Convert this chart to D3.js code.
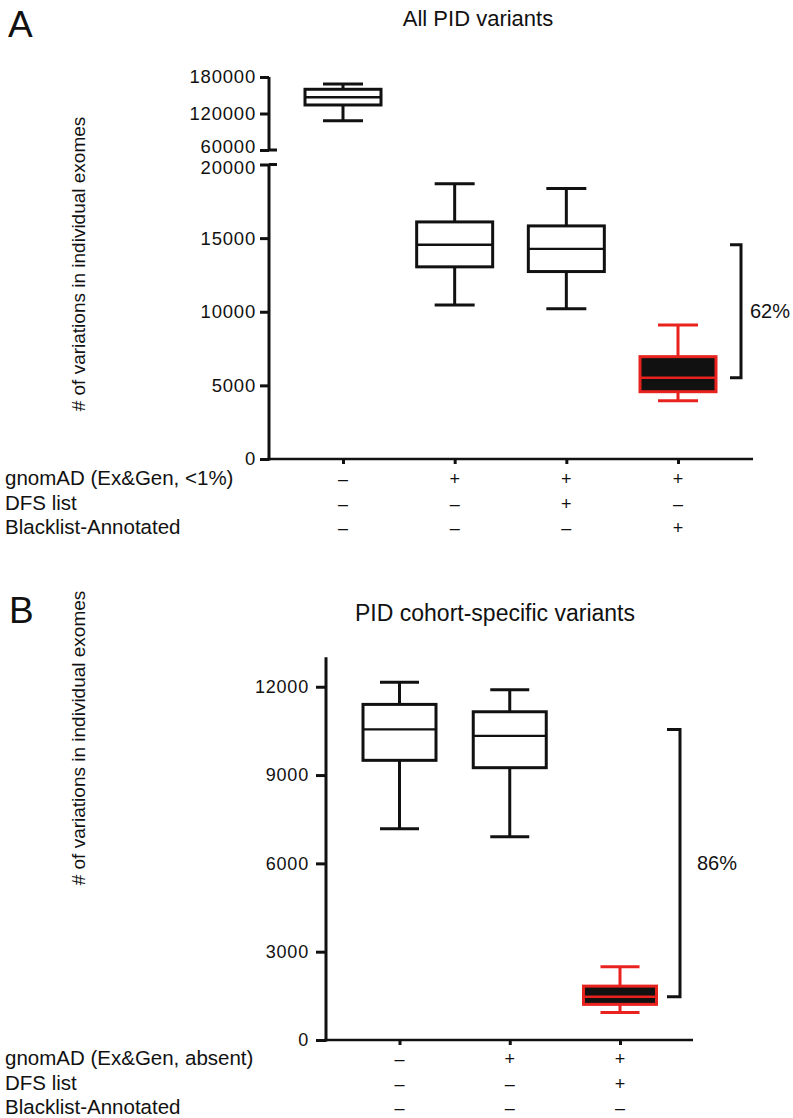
<!DOCTYPE html>
<html>
<head>
<meta charset="utf-8">
<script src="https://cdn.jsdelivr.net/npm/d3@7"></script>
<style>
  html, body { margin: 0; padding: 0; background: #fff; }
  svg { display: block; }
  text { font-family: "Liberation Sans", Arial, Helvetica, sans-serif; fill: #111; }
</style>
</head>
<body>
<svg id="chart" width="793" height="1118"></svg>
<script>
// ---------- Panel A data ----------
const titleA = "All PID variants";
const rowLabelsA = ["gnomAD (Ex&Gen, <1%)", "DFS list", "Blacklist-Annotated"];
const signsA = [["–", "+", "+", "+"], ["–", "–", "+", "–"], ["–", "–", "–", "+"]];
const minA = [108200, 10450, 10210, 3960];
const q1A  = [134000, 13050, 12730, 4570];
const medA = [146600, 14550, 14270, 5520];
const q3A  = [159800, 16100, 15830, 6950];
const maxA = [168500, 18700, 18370, 9100];
const highlightA = [false, false, false, true];
const upperTicksA = [60000, 120000, 180000];
const lowerTicksA = [0, 5000, 10000, 15000, 20000];
const pctA = "62%";

// ---------- Panel B data ----------
const titleB = "PID cohort-specific variants";
const rowLabelsB = ["gnomAD (Ex&Gen, absent)", "DFS list", "Blacklist-Annotated"];
const signsB = [["–", "+", "+"], ["–", "–", "+"], ["–", "–", "–"]];
const minB = [7180, 6900, 930];
const q1B  = [9500, 9250, 1210];
const medB = [10550, 10330, 1470];
const q3B  = [11400, 11150, 1830];
const maxB = [12150, 11900, 2490];
const highlightB = [false, false, true];
const ticksB = [0, 3000, 6000, 9000, 12000];
const pctB = "86%";

const yTitle = "# of variations in individual exomes";
const RED = "#e8231f";
const BLACK = "#111";

const svg = d3.select("#chart");

function styleAxis(g, fs) {
  g.select(".domain").remove();
  g.selectAll(".tick line").attr("stroke", BLACK).attr("stroke-width", 3);
  g.selectAll(".tick text").attr("font-size", fs).attr("fill", BLACK)
    .attr("letter-spacing", 0.8)
    .style("font-family", '"Liberation Sans", Arial, sans-serif');
}

function drawBox(g, x, y, i, data, w, capW, hl) {
  const [mn, q1, md, q3, mx] = data.map(a => a[i]);
  const col = hl ? RED : BLACK;
  g.append("line").attr("x1", x).attr("x2", x).attr("y1", y(mx)).attr("y2", y(q3))
    .attr("stroke", col).attr("stroke-width", 3);
  g.append("line").attr("x1", x).attr("x2", x).attr("y1", y(q1)).attr("y2", y(mn))
    .attr("stroke", col).attr("stroke-width", 3);
  g.append("line").attr("x1", x - capW / 2).attr("x2", x + capW / 2).attr("y1", y(mx)).attr("y2", y(mx))
    .attr("stroke", col).attr("stroke-width", 3);
  g.append("line").attr("x1", x - capW / 2).attr("x2", x + capW / 2).attr("y1", y(mn)).attr("y2", y(mn))
    .attr("stroke", col).attr("stroke-width", 3);
  g.append("rect").attr("x", x - w / 2).attr("width", w)
    .attr("y", y(q3)).attr("height", y(q1) - y(q3))
    .attr("fill", hl ? BLACK : "#fff").attr("stroke", col).attr("stroke-width", 3);
  g.append("line").attr("x1", x - w / 2).attr("x2", x + w / 2).attr("y1", y(md)).attr("y2", y(md))
    .attr("stroke", col).attr("stroke-width", 2.4);
}

function drawRows(labels, signs, x, baseY, step) {
  labels.forEach((lab, r) => {
    svg.append("text").attr("x", 5).attr("y", baseY + r * step)
      .attr("font-size", 20.5).text(lab);
    signs[r].forEach((s, c) => {
      svg.append("text").attr("x", x(c)).attr("y", baseY + r * step)
        .attr("text-anchor", "middle").attr("font-size", 18).text(s);
    });
  });
}

function drawBracket(xv, xArm, y1, y2, label, lx) {
  svg.append("path")
    .attr("d", `M${xArm},${y1}H${xv}V${y2}H${xArm}`)
    .attr("fill", "none").attr("stroke", BLACK).attr("stroke-width", 3);
  svg.append("text").attr("x", lx).attr("y", (y1 + y2) / 2)
    .attr("dominant-baseline", "central").attr("font-size", 20).text(label);
}

// ================= PANEL A =================
(function () {
  const axX = 269;
  const yUp = d3.scaleLinear().domain([60000, 180000]).range([150, 77]);
  const yLo = d3.scaleLinear().domain([0, 20000]).range([459, 164.5]);
  const yOf = v => (v > 40000 ? yUp(v) : yLo(v));
  const x = d3.scalePoint().domain(d3.range(minA.length)).range([343, 678]);

  svg.append("text").attr("x", 8).attr("y", 37).attr("font-size", 37).text("A");
  svg.append("text").attr("x", 478).attr("y", 26).attr("text-anchor", "middle")
    .attr("font-size", 22).text(titleA);

  svg.append("text").attr("transform", `translate(78,264) rotate(-90)`)
    .attr("text-anchor", "middle").attr("dominant-baseline", "central")
    .attr("font-size", 19).text(yTitle);

  // upper axis
  const gU = svg.append("g").attr("transform", `translate(${axX},0)`)
    .call(d3.axisLeft(yUp).tickValues(upperTicksA).tickFormat(d3.format("d")).tickSize(9).tickPadding(4));
  styleAxis(gU, 18.5);
  gU.selectAll(".tick text").filter(d => d === 60000).attr("dy", "0.14em");
  svg.append("line").attr("x1", axX).attr("x2", axX).attr("y1", yUp(180000)).attr("y2", yUp(60000))
    .attr("stroke", BLACK).attr("stroke-width", 3);
  svg.append("line").attr("x1", axX).attr("x2", axX + 8).attr("y1", yUp(60000)).attr("y2", yUp(60000))
    .attr("stroke", BLACK).attr("stroke-width", 3);

  // lower axis
  const gL = svg.append("g").attr("transform", `translate(${axX},0)`)
    .call(d3.axisLeft(yLo).tickValues(lowerTicksA).tickFormat(d3.format("d")).tickSize(9).tickPadding(4));
  styleAxis(gL, 18.5);
  gL.selectAll(".tick text").filter(d => d === 20000).attr("dy", "0.5em");
  svg.append("line").attr("x1", axX).attr("x2", axX).attr("y1", yLo(20000)).attr("y2", yLo(0) + 1.5)
    .attr("stroke", BLACK).attr("stroke-width", 3);
  svg.append("line").attr("x1", axX).attr("x2", axX + 8).attr("y1", yLo(20000)).attr("y2", yLo(20000))
    .attr("stroke", BLACK).attr("stroke-width", 3);

  // x axis
  const gX = svg.append("g").attr("transform", `translate(0,${yLo(0)})`)
    .call(d3.axisBottom(x).tickSize(5).tickFormat(""));
  gX.select(".domain").remove();
  gX.selectAll(".tick line").attr("stroke", BLACK).attr("stroke-width", 3);
  svg.append("line").attr("x1", axX - 1.5).attr("x2", 753).attr("y1", yLo(0)).attr("y2", yLo(0))
    .attr("stroke", BLACK).attr("stroke-width", 2.5);

  const data = [minA, q1A, medA, q3A, maxA];
  const g = svg.append("g");
  minA.forEach((_, i) => drawBox(g, x(i), yOf, i, data, 76, 40, highlightA[i]));

  drawBracket(741, 730, yLo(medA[1]), yLo(medA[3]), pctA, 750);
  drawRows(rowLabelsA, signsA, x, 485, 24.5);
})();

// ================= PANEL B =================
(function () {
  const axX = 326;
  const y = d3.scaleLinear().domain([0, 13000]).range([1040, 657.3]);
  const x = d3.scalePoint().domain(d3.range(minB.length)).range([399.5, 620]);

  svg.append("text").attr("x", 9).attr("y", 623).attr("font-size", 37).text("B");
  svg.append("text").attr("x", 495).attr("y", 621).attr("text-anchor", "middle")
    .attr("font-size", 23).text(titleB);

  svg.append("text").attr("transform", `translate(78,738) rotate(-90)`)
    .attr("text-anchor", "middle").attr("dominant-baseline", "central")
    .attr("font-size", 19).text(yTitle);

  const gY = svg.append("g").attr("transform", `translate(${axX},0)`)
    .call(d3.axisLeft(y).tickValues(ticksB).tickFormat(d3.format("d")).tickSize(10).tickPadding(7));
  styleAxis(gY, 18);
  svg.append("line").attr("x1", axX).attr("x2", axX).attr("y1", y(13000)).attr("y2", y(0) + 1.5)
    .attr("stroke", BLACK).attr("stroke-width", 3);

  const gX = svg.append("g").attr("transform", `translate(0,${y(0)})`)
    .call(d3.axisBottom(x).tickSize(5).tickFormat(""));
  gX.select(".domain").remove();
  gX.selectAll(".tick line").attr("stroke", BLACK).attr("stroke-width", 3);
  svg.append("line").attr("x1", axX - 1.5).attr("x2", 693).attr("y1", y(0)).attr("y2", y(0))
    .attr("stroke", BLACK).attr("stroke-width", 2.5);

  const data = [minB, q1B, medB, q3B, maxB];
  const g = svg.append("g");
  minB.forEach((_, i) => drawBox(g, x(i), y, i, data, 73, 39, highlightB[i]));

  drawBracket(680, 667, y(medB[0]), y(medB[2]), pctB, 697);
  drawRows(rowLabelsB, signsB, x, 1065, 24.5);
})();
</script>
</body>
</html>
